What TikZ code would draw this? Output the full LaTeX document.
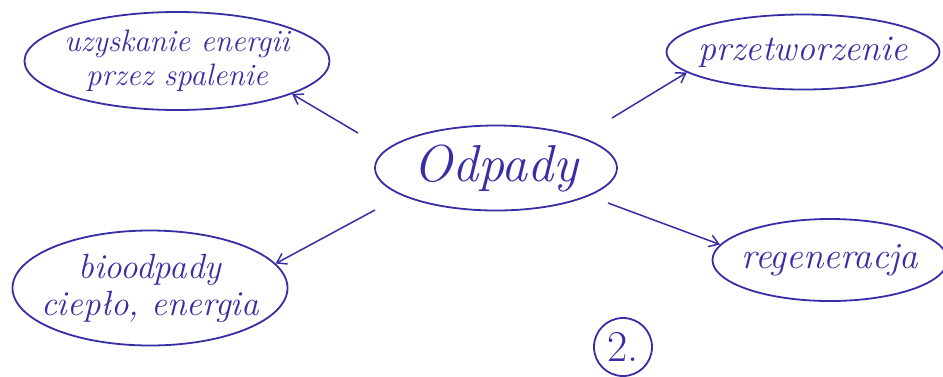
\documentclass[tikz,border=0pt]{standalone}
\usepackage{xcolor}
\usepackage{amsmath}
\usepackage{tikz}
\usetikzlibrary{positioning,shapes.geometric,arrows.meta}
\definecolor{ink}{RGB}{55,45,165}
\tikzset{
	idea/.style={ellipse, draw=ink, line width=1.8pt, text=ink, inner sep=-40pt, align=center, font=\itshape},
	pointer/.style={draw=ink, line width=1.5pt, -{Straight Barb[length=9pt,width=12pt]}}
}

\begin{document}
\begin{tikzpicture}[x=1pt, y=-1pt]
	\useasboundingbox (0,0) rectangle (943,376);
	\node[idea, minimum width=242pt, minimum height=85pt, font=\itshape\fontsize{52}{56}\selectfont] (odpady) at (496,168) {Odpady};
	\node[idea, minimum width=305pt, minimum height=98pt, font=\itshape\fontsize{31}{34}\selectfont] (spalanie) at (177,61) {uzyskanie energii\\przez spalenie};
	\node[idea, minimum width=273pt, minimum height=75pt, font=\itshape\fontsize{36}{40}\selectfont] (przetw) at (803,52) {przetworzenie};
	\node[idea, minimum width=235pt, minimum height=82pt, font=\itshape\fontsize{37}{40}\selectfont] (regen) at (830,260) {regeneracja};
	\node[idea, minimum width=275pt, minimum height=115pt, font=\itshape\fontsize{35}{37}\selectfont] (bio) at (150,288) {bioodpady\\ciepło, energia};
	\node[circle, draw=ink, line width=1.8pt, text=ink, minimum size=58pt, inner sep=-20pt, font=\fontsize{44}{46}\selectfont] (nr) at (623,347) {2.};
	\coordinate (a1) at (358,133);
	\coordinate (a2) at (612,118);
	\coordinate (a3) at (608,203);
	\coordinate (a4) at (375,210);
	\draw[pointer] (a1) -- (spalanie.-16);
	\draw[pointer] (a2) -- (przetw.-170);
	\draw[pointer] (a3) -- (regen.172);
	\draw[pointer] (a4) -- (bio.11);
\end{tikzpicture}
\end{document}
